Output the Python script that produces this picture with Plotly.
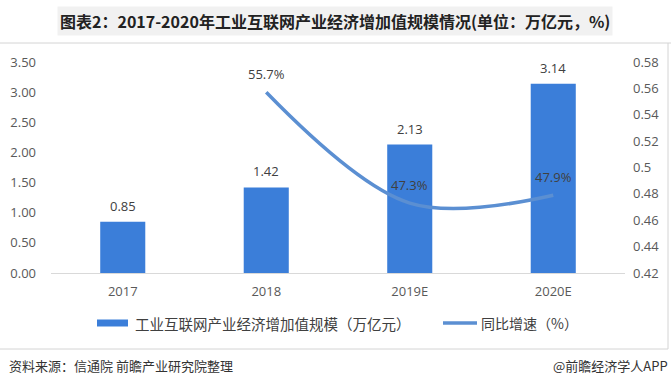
import plotly.graph_objects as go

categories = ["2017", "2018", "2019E", "2020E"]
scale_values = [0.85, 1.42, 2.13, 3.14]
growth_categories = ["2018", "2019E", "2020E"]
growth_values = [0.557, 0.473, 0.479]
growth_labels = ["55.7%", "47.3%", "47.9%"]
left_ticks = [0, 0.5, 1, 1.5, 2, 2.5, 3, 3.5]
right_ticks = [0.42, 0.44, 0.46, 0.48, 0.5, 0.52, 0.54, 0.56, 0.58]
right_ticktext = ["0.42", "0.44", "0.46", "0.48", "0.5", "0.52", "0.54", "0.56", "0.58"]

W, H = 671, 390
L, R, T, B = 51, 46, 62, 117
PW, PH = W - L - R, H - T - B

def px(x):
    return (x - L) / PW

def py(y):
    return (H - B - y) / PH

FONT = "Open Sans, Noto Sans CJK SC, sans-serif"
CJK = "Noto Sans CJK SC, sans-serif"
BAR_C = "#3b7ed9"
LINE_C = "#5b8fd2"

fig = go.Figure()
fig.add_trace(go.Bar(
    x=categories, y=scale_values, marker_color=BAR_C, marker_line_width=0,
    showlegend=False, hoverinfo="skip",
))
fig.add_trace(go.Scatter(
    x=growth_categories, y=growth_values, yaxis="y2", mode="lines",
    line=dict(color=LINE_C, width=3.5, shape="spline", smoothing=1.0),
    showlegend=False, hoverinfo="skip",
))

fig.update_layout(
    width=W, height=H, margin=dict(l=L, r=R, t=T, b=B, autoexpand=False),
    paper_bgcolor="white", plot_bgcolor="white",
    bargap=0.686, showlegend=False,
    font=dict(family=FONT, size=13, color="#595959"),
    xaxis=dict(type="category", categoryarray=categories, categoryorder="array",
               showgrid=False, showline=True, linecolor="#d9d9d9",
               linewidth=1, ticks="", tickfont=dict(size=13, color="#595959"),
               ticklabelstandoff=6, automargin=False),
    yaxis=dict(range=[0, 3.5], tickvals=left_ticks, tickformat=".2f", showgrid=False,
               zeroline=False, showline=False, ticks="", ticklabelstandoff=14,
               tickfont=dict(size=13, color="#595959"), automargin=False),
    yaxis2=dict(range=[0.42, 0.58], overlaying="y", side="right", tickvals=right_ticks,
                ticktext=right_ticktext, showgrid=False, zeroline=False, showline=False,
                ticks="", ticklabelstandoff=7, tickfont=dict(size=13, color="#595959"),
                automargin=False),
)

ann = []
# bar value labels (category index positions)
for i, v in enumerate(scale_values):
    ann.append(dict(x=i, y=v, xref="x", yref="y", text=f"{v:.2f}", showarrow=False,
                    yanchor="middle", yshift=16, font=dict(family=FONT, size=13, color="#404040")))
# growth labels
for c, v, t in zip(growth_categories, growth_values, growth_labels):
    ann.append(dict(x=categories.index(c), y=v, xref="x", yref="y2", text=t, showarrow=False,
                    yanchor="middle", yshift=18, font=dict(family=FONT, size=13, color="#404040")))

ann.append(dict(x=px(335), y=py(21), xref="paper", yref="paper", xanchor="center", yanchor="middle",
                text="<b>图表2：2017-2020年工业互联网产业经济增加值规模情况(单位：万亿元，%)</b>",
                showarrow=False, font=dict(family=CJK, size=16, color="#222222"),
                bgcolor="#f1f1f1", borderpad=2))
ann.append(dict(x=px(133), y=py(323), xref="paper", yref="paper", xanchor="left", yanchor="middle",
                text="工业互联网产业经济增加值规模（万亿元）", showarrow=False,
                font=dict(family=CJK, size=14.5, color="#404040")))
ann.append(dict(x=px(479), y=py(323), xref="paper", yref="paper", xanchor="left", yanchor="middle",
                text="同比增速（%）", showarrow=False,
                font=dict(family=CJK, size=14, color="#404040")))
ann.append(dict(x=px(7), y=py(365), xref="paper", yref="paper", xanchor="left", yanchor="middle",
                text="资料来源：信通院 前瞻产业研究院整理", showarrow=False,
                font=dict(family=CJK, size=13, color="#333333")))
ann.append(dict(x=px(670), y=py(365), xref="paper", yref="paper", xanchor="right", yanchor="middle",
                text="@前瞻经济学人APP", showarrow=False,
                font=dict(family=CJK, size=13, color="#333333")))
fig.update_layout(annotations=ann)

shapes = [
    dict(type="rect", xref="paper", yref="paper", x0=px(97), x1=px(128), y0=py(319.5), y1=py(326.5),
         fillcolor=BAR_C, line_width=0),
    dict(type="line", xref="paper", yref="paper", x0=px(443), x1=px(477), y0=py(323), y1=py(323),
         line=dict(color=LINE_C, width=3.5)),
    dict(type="line", xref="paper", yref="paper", x0=px(0), x1=px(671), y0=py(43), y1=py(43),
         line=dict(color="#d4d4d4", width=1)),
    dict(type="line", xref="paper", yref="paper", x0=px(0), x1=px(668), y0=py(349), y1=py(349),
         line=dict(color="#d4d4d4", width=1)),
    dict(type="line", xref="paper", yref="paper", x0=px(668), x1=px(668), y0=py(43), y1=py(349),
         line=dict(color="#d4d4d4", width=1)),
]
fig.update_layout(shapes=shapes)

fig.write_html("out.html", config={"displayModeBar": False},
               post_script="document.body.style.margin='0';document.body.style.padding='0';")
